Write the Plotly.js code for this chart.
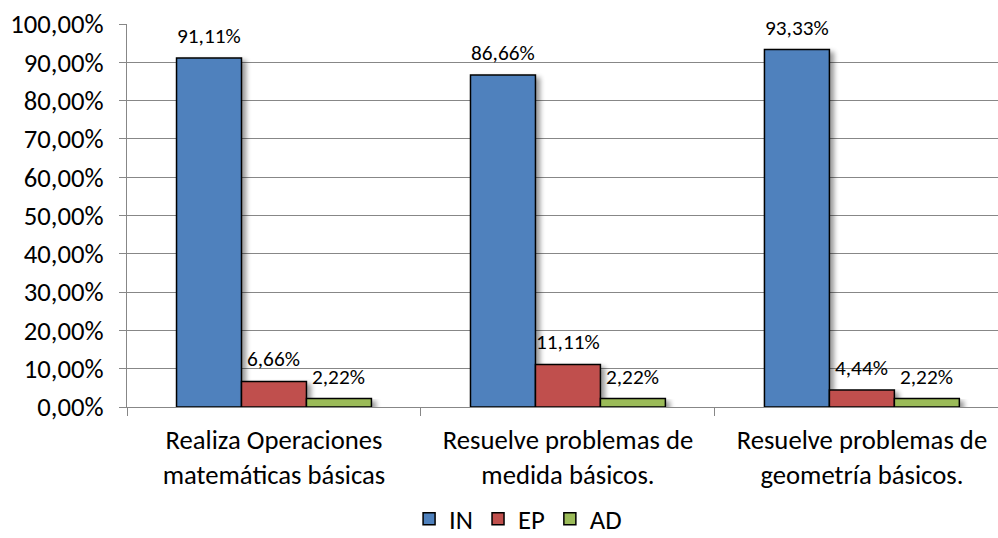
<!DOCTYPE html>
<html>
<head>
<meta charset="utf-8">
<script src="https://cdn.plot.ly/plotly-3.0.1.min.js"></script>
<style>
html,body{margin:0;padding:0;background:#fff;}
#chart{width:998px;height:538px;}
</style>
</head>
<body>
<div id="chart"></div>
<script>
const categories = [
  "Realiza Operaciones<br>matemáticas básicas",
  "Resuelve problemas de<br>medida básicos.",
  "Resuelve problemas de<br>geometría básicos."
];
const seriesNames = ["IN", "EP", "AD"];
const valuesIN = [0.9111, 0.8666, 0.9333];
const valuesEP = [0.0666, 0.1111, 0.0444];
const valuesAD = [0.0222, 0.0222, 0.0222];
const labelsIN = ["91,11%", "86,66%", "93,33%"];
const labelsEP = ["6,66%", "11,11%", "4,44%"];
const labelsAD = ["2,22%", "2,22%", "2,22%"];
const colors = ["#4F81BD", "#C0504D", "#9BBB59"];

const FONT = "Carlito, Calibri, Lato, sans-serif";
const bargap = 0.337;
const allValues = [valuesIN, valuesEP, valuesAD];
const allLabels = [labelsIN, labelsEP, labelsAD];

const traces = allValues.map((vals, j) => ({
  type: "bar",
  name: seriesNames[j],
  x: categories,
  y: vals,
  marker: {color: colors[j], line: {color: "#000", width: 1.5}},
  hoverinfo: "none"
}));

const nSeries = allValues.length;
const bw = (1 - bargap) / nSeries;
const annotations = [];
allValues.forEach((vals, j) => {
  vals.forEach((v, i) => {
    annotations.push({
      xref: "x", yref: "y",
      x: i + (j - (nSeries - 1) / 2) * bw,
      y: v,
      text: allLabels[j][i],
      showarrow: false,
      yanchor: "bottom",
      xanchor: "center",
      yshift: 7,
      font: {family: FONT, size: 21.3, color: "#000"}
    });
  });
});

const layout = {
  width: 998, height: 538,
  margin: {l: 127, r: 0, t: 24, b: 131, autoexpand: false},
  paper_bgcolor: "#fff", plot_bgcolor: "#fff",
  separators: ",.",
  barmode: "group",
  bargap: bargap,
  bargroupgap: 0,
  showlegend: true,
  legend: {
    orientation: "h",
    x: 0.449, xanchor: "center",
    y: -0.292, yanchor: "middle",
    font: {family: FONT, size: 26.7, color: "#000"},
    itemwidth: 30,
    traceorder: "normal"
  },
  xaxis: {
    type: "category",
    range: [-0.5, 2.463],
    showgrid: false,
    showline: true, linecolor: "#878787", linewidth: 1,
    ticks: "outside", tickson: "boundaries", ticklen: 8, tickcolor: "#878787",
    ticklabelstandoff: 9,
    tickfont: {family: FONT, size: 26.7, color: "#000"},
    automargin: false,
    fixedrange: true
  },
  yaxis: {
    range: [0, 1],
    tickvals: [0, 0.1, 0.2, 0.3, 0.4, 0.5, 0.6, 0.7, 0.8, 0.9, 1.0],
    tickformat: ".2%",
    showgrid: true, gridcolor: "#878787", gridwidth: 1,
    showline: true, linecolor: "#878787", linewidth: 1,
    ticks: "outside", ticklen: 7, tickcolor: "#878787",
    ticklabelstandoff: 10,
    tickfont: {family: FONT, size: 26.7, color: "#000"},
    automargin: false,
    zeroline: false,
    fixedrange: true
  },
  annotations: annotations
};

Plotly.newPlot("chart", traces, layout, {displayModeBar: false, staticPlot: true}).then(() => {
  const svg = document.querySelector("#chart .main-svg");
  const NS = "http://www.w3.org/2000/svg";
  let defs = svg.querySelector("defs");
  if (!defs) { defs = document.createElementNS(NS, "defs"); svg.insertBefore(defs, svg.firstChild); }
  const f = document.createElementNS(NS, "filter");
  f.setAttribute("id", "barshadow");
  f.setAttribute("x", "-20%"); f.setAttribute("y", "-20%");
  f.setAttribute("width", "160%"); f.setAttribute("height", "160%");
  f.innerHTML = '<feGaussianBlur in="SourceAlpha" stdDeviation="2.5"/>' +
    '<feOffset dx="4" dy="3" result="ob"/>' +
    '<feComponentTransfer><feFuncA type="linear" slope="0.4"/></feComponentTransfer>' +
    '<feMerge><feMergeNode/><feMergeNode in="SourceGraphic"/></feMerge>';
  defs.appendChild(f);
  document.querySelectorAll("#chart .barlayer .point path").forEach(p => {
    p.setAttribute("filter", "url(#barshadow)");
  });
});
</script>
</body>
</html>
